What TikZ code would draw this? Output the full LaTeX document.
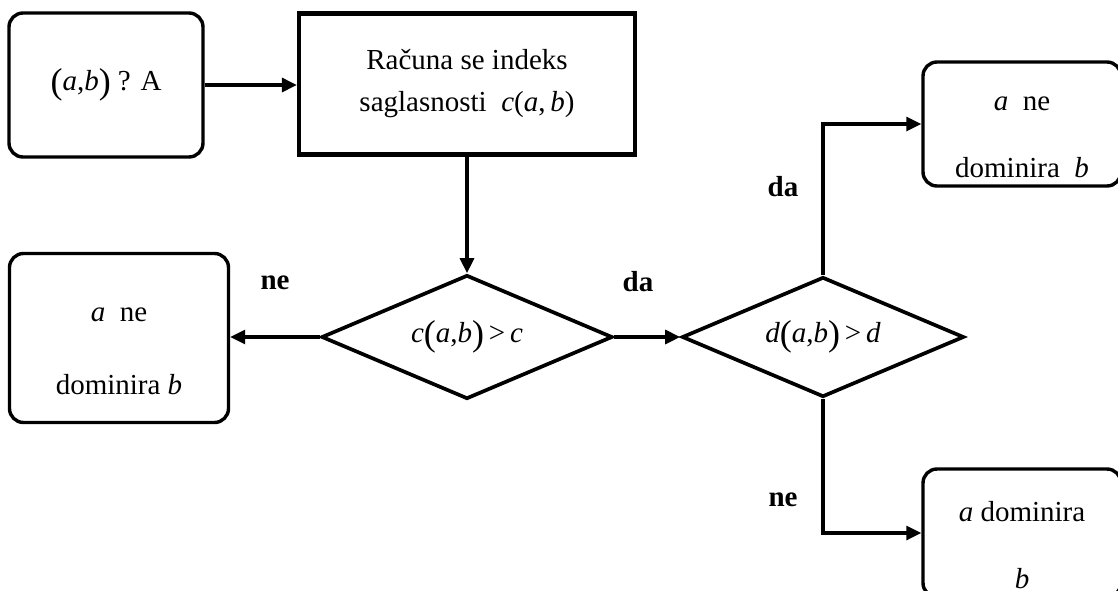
\documentclass[tikz,border=0pt]{standalone}
\usepackage{fontspec}
\setmainfont{Liberation Serif}
\usetikzlibrary{shapes.geometric}
\usetikzlibrary{arrows.meta}

% tall brackets round a pair
\newcommand{\tallpair}[2]{\raisebox{-3pt}{\fontsize{36}{36}\selectfont(}\textit{#1},\textit{#2}\raisebox{-3pt}{\fontsize{36}{36}\selectfont)}}

\tikzset{
	roundbox/.style={draw, line width=1.2mm, rounded corners=14pt, align=center, inner sep=0pt},
	calcbox/.style={draw, line width=1.5mm, align=center, inner sep=0pt},
	testbox/.style={draw, shape=diamond, aspect=2.3, line width=1.3mm, inner sep=0pt},
	flow/.style={line width=1.1mm, -{Triangle[length=15pt,width=14pt]}},
	answer/.style={font=\fontsize{29}{34}\selectfont\bfseries}
}

\begin{document}
\begin{tikzpicture}[x=1pt, y=-1pt, font=\fontsize{29}{34}\selectfont]
	% Fix the frame of the picture
	\useasboundingbox (0,0) rectangle (1118,590);
	\clip (0,0) rectangle (1118,590);

	% Start box and the box where the index is computed
	\node[roundbox, minimum width=194pt, minimum height=144pt] (start) at (106,85) {\tallpair{a}{b} ? A};
	\node[calcbox, minimum width=336pt, minimum height=141pt] (calc) at (467,84) {Računa se indeks\\[8pt]saglasnosti\enspace \textit{c}(\textit{a},\,\textit{b})};

	% The two tests
	\node[testbox, minimum width=291pt, minimum height=124pt] (testc) at (467,337) {\textit{c}\tallpair{a}{b}\,>\,\textit{c}};
	\node[testbox, minimum width=282pt, minimum height=120pt] (testd) at (823,337) {\textit{d}\tallpair{a}{b}\,>\,\textit{d}};

	% Outcomes (the right ones run off the page)
	\node[roundbox, minimum width=219pt, minimum height=169pt] (nodom) at (119,338) {\rule{0pt}{40pt}\textit{a}\enspace ne\\[39pt]dominira \textit{b}};
	\node[roundbox, minimum width=198pt, minimum height=124pt] (nodomd) at (1022,124) {\rule{0pt}{40pt}\textit{a}\enspace ne\\[33pt]dominira\enspace\textit{b}};
	\node[roundbox, minimum width=198pt, minimum height=128pt] (dom) at (1022,533) {\rule{0pt}{44pt}\textit{a} dominira\\[33pt]\textit{b}};

	% Labels on the branches
	\node[answer] (nec) at (275,283) {ne};
	\node[answer] (dac) at (638,282) {da};
	\node[answer] (dad) at (783,187) {da};
	\node[answer] (ned) at (783,500) {ne};

	% Connectors
	\draw[flow] (start.east) -- (start.east -| calc.west);
	\draw[flow] (calc.south) -- (testc.north);
	\draw[flow] (testc.west) -- (testc.west -| nodom.east);
	\draw[flow] (testc.east) -- (testd.west);
	\draw[flow] (testd.north) |- (nodomd.west);
	\draw[flow] (testd.south) |- (dom.west);
\end{tikzpicture}
\end{document}
